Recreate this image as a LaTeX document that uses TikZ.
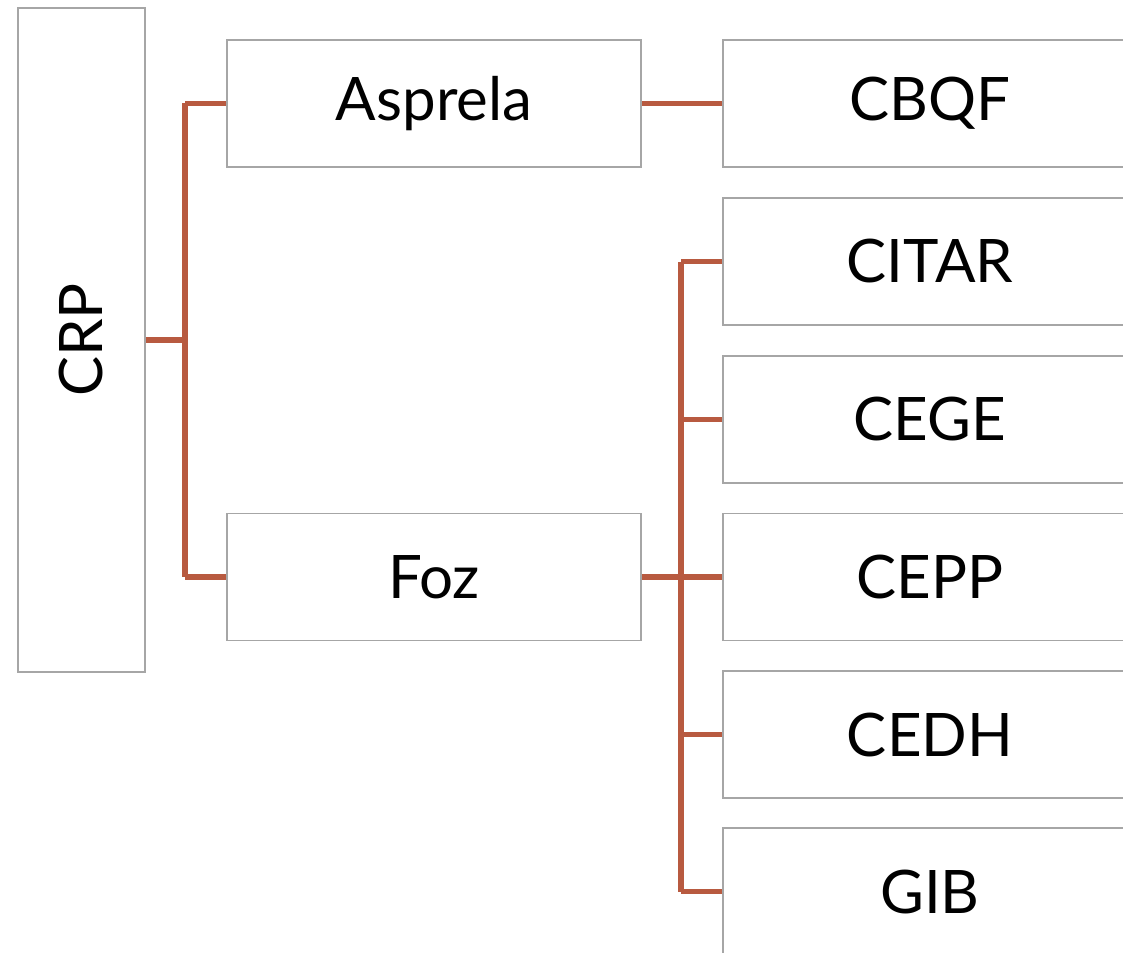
\documentclass[tikz,border=0pt]{standalone}
\usepackage{fontspec}
\setmainfont{Lato}
\definecolor{conn}{HTML}{B85A40}
\definecolor{boxline}{HTML}{A6A6A6}
\begin{document}
\begin{tikzpicture}[x=1pt,y=-1pt,
  box/.style={draw=boxline,line width=1.6pt,fill=white,inner sep=0pt,
    font=\fontsize{60}{66}\selectfont},
  link/.style={draw=conn,line width=5.2pt}]
\useasboundingbox (0,0) rectangle (1123,952);
\clip (0,0) rectangle (1123,952);
\node[box,minimum width=127pt,minimum height=664pt] (crp) at (81.5,340) {};
\node[rotate=90,font=\fontsize{60}{66}\selectfont] (crpt) at (81.5,340) {CRP};
\node[box,minimum width=414pt,minimum height=127pt] (asp) at (434,103.5) {Asprela};
\node[box,minimum width=414pt,minimum height=127pt] (foz) at (434,577) {Foz};
\foreach \n/\t/\y in {cbqf/CBQF/103.5,citar/CITAR/261.5,cege/CEGE/419.5,cepp/CEPP/577,cedh/CEDH/734.5,gib/GIB/891.5}
  \node[box,minimum width=414pt,minimum height=127pt] (\n) at (930,\y) {\t};
\coordinate (j1) at (185,340);
\coordinate (j2) at (681,577);
\draw[link] (crp.east) -- (j1);
\draw[link] (j1 |- asp.west) -- (j1 |- foz.west);
\draw[link] (j1 |- asp.west) -- (asp.west);
\draw[link] (j1 |- foz.west) -- (foz.west);
\draw[link] (asp.east) -- (cbqf.west);
\draw[link] (foz.east) -- (j2);
\draw[link] (j2 |- citar.west) -- (j2 |- gib.west);
\foreach \n in {citar,cege,cepp,cedh,gib}
  \draw[link] (j2 |- \n.west) -- (\n.west);
\end{tikzpicture}
\end{document}
